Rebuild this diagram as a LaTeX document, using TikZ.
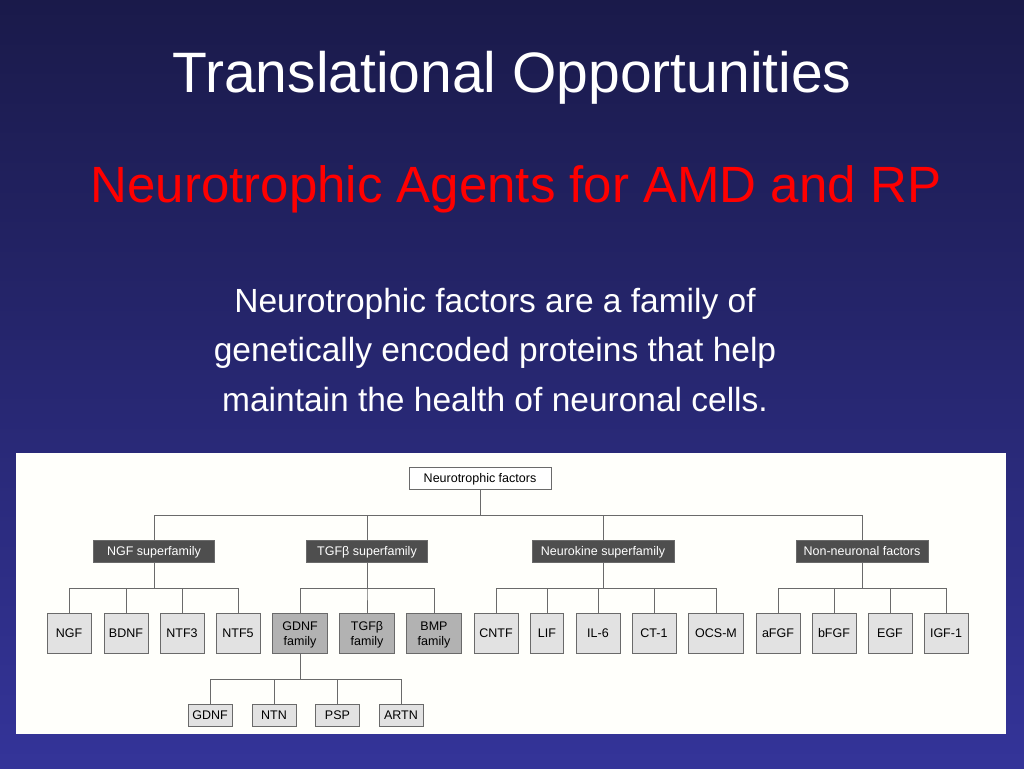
\documentclass[tikz,border=0pt]{standalone}
\usepackage{fontspec}
\setmainfont{Liberation Sans}
\usetikzlibrary{positioning}
\definecolor{slidetop}{HTML}{1A1A4A}
\definecolor{slidebottom}{HTML}{343499}
\definecolor{panel}{HTML}{FFFFFB}
\definecolor{boxline}{HTML}{6A6A6A}
\definecolor{supergray}{HTML}{4E4E4E}
\definecolor{familygray}{HTML}{B2B2B2}
\definecolor{leafgray}{HTML}{E2E2E2}
\begin{document}
\begin{tikzpicture}[x=1pt, y=-1pt,
                    link/.style={draw=boxline, line width=1pt},
                    box/.style={draw=boxline, line width=1pt, inner sep=0pt, align=center,
                                font=\fontsize{12.5}{15}\selectfont},
                    one line/.style={text height=9, text depth=0},
                    root node/.style={box, one line, fill=white, minimum width=142, minimum height=22},
                    super node/.style={box, one line, fill=supergray, text=white, minimum height=22},
                    leaf node/.style={box, one line, fill=leafgray, minimum width=44, minimum height=40},
                    family node/.style={box, text height=24, text depth=0, fill=familygray,
                                        minimum width=55, minimum height=40},
                    sub node/.style={box, one line, fill=leafgray, minimum width=44, minimum height=22}]

  \useasboundingbox (0,0) rectangle (1024,768);
  \shade[top color=slidetop, bottom color=slidebottom] (0,0) rectangle (1024,768);

  \node (title) [anchor=base, text=white, font=\fontsize{57}{68}\selectfont] at (512,92)
    {Translational Opportunities};
  \node (subtitle) [anchor=base, text=red, font=\fontsize{51}{61}\selectfont] at (516,202)
    {Neurotrophic Agents for AMD and RP};
  \node (body) [anchor=base, text=white, align=center, font=\fontsize{33.5}{49.5}\selectfont] at (495,411)
    {Neurotrophic factors are a family of\\genetically encoded proteins that help\\maintain the health of neuronal cells.};

  \fill[panel] (16,453) rectangle (1006,734);

  \node[root node] (root) at (480,478) {Neurotrophic factors};

  \node[super node, minimum width=121] (ngfs) at (154,551) {NGF superfamily};
  \node[super node, minimum width=121] (tgfs) at (367,551) {TGFβ superfamily};
  \node[super node, minimum width=142] (nks) at (603,551) {Neurokine superfamily};
  \node[super node, minimum width=132] (nns) at (862,551) {Non-neuronal factors};

  \node[leaf node] (ngf) at (69,633.3) {NGF};
  \node[leaf node] (bdnf) at (126,633.3) {BDNF};
  \node[leaf node] (ntf3) at (182,633.3) {NTF3};
  \node[leaf node] (ntf5) at (238,633.3) {NTF5};
  \node[family node] (gdnff) at (300,633.3) {GDNF\\family};
  \node[family node] (tgff) at (367,633.3) {TGFβ\\family};
  \node[family node] (bmpf) at (434,633.3) {BMP\\family};
  \node[leaf node] (cntf) at (496,633.3) {CNTF};
  \node[leaf node, minimum width=33] (lif) at (547,633.3) {LIF};
  \node[leaf node] (il6) at (598,633.3) {IL-6};
  \node[leaf node] (ct1) at (654,633.3) {CT-1};
  \node[leaf node, minimum width=55] (ocsm) at (716,633.3) {OCS-M};
  \node[leaf node] (afgf) at (778,633.3) {aFGF};
  \node[leaf node] (bfgf) at (834,633.3) {bFGF};
  \node[leaf node] (egf) at (890,633.3) {EGF};
  \node[leaf node] (igf1) at (946,633.3) {IGF-1};

  \node[sub node] (gdnf) at (210,715) {GDNF};
  \node[sub node] (ntn) at (274,715) {NTN};
  \node[sub node] (psp) at (337.5,715) {PSP};
  \node[sub node] (artn) at (401,715) {ARTN};

  \foreach \c in {ngfs,tgfs,nks,nns}
    \draw[link] (root.south) -- ++(0,26) -| (\c.north);
  \foreach \p/\c in {ngfs/ngf,ngfs/bdnf,ngfs/ntf3,ngfs/ntf5,
                     tgfs/gdnff,tgfs/tgff,tgfs/bmpf,
                     nks/cntf,nks/lif,nks/il6,nks/ct1,nks/ocsm,
                     nns/afgf,nns/bfgf,nns/egf,nns/igf1}
    \draw[link] (\p.south) -- ++(0,25.7) -| (\c.north);
  \foreach \c in {gdnf,ntn,psp,artn}
    \draw[link] (gdnff.south) -- ++(0,25.4) -| (\c.north);
\end{tikzpicture}
\end{document}
